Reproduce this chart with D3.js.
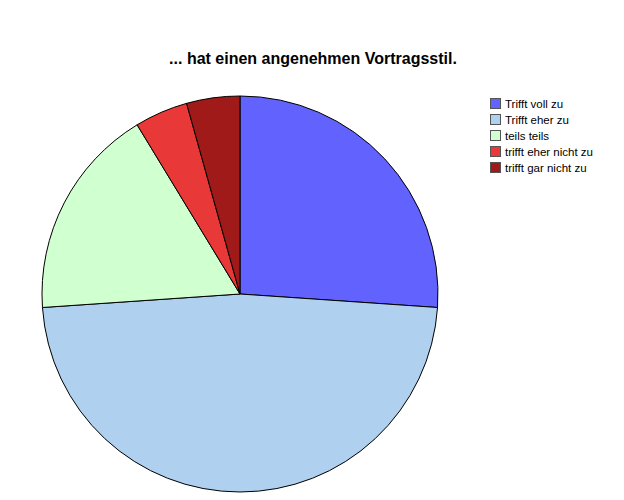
<!DOCTYPE html>
<html>
<head>
    <script type="text/javascript" src="https://d3js.org/d3.v7.min.js"></script>
    <style>
        body { margin: 0; background: #fff; font-family: "Liberation Sans", Arial, sans-serif; }
    </style>
</head>
<body>
    <div id="svgcontainer"></div>
    <script>
        var width = 624;
        var height = 500;

        var categories = ["Trifft voll zu", "Trifft eher zu", "teils teils", "trifft eher nicht zu", "trifft gar nicht zu"];
        var counts = [6, 11, 4, 1, 1];
        var colors = ["#6262ff", "#b0d0f0", "#d0ffd0", "#e83838", "#a01a1a"];

        var svg = d3.select("#svgcontainer")
            .append("svg")
            .attr("width", width)
            .attr("height", height);

        svg.append("text")
            .attr("x", 313).attr("y", 64)
            .attr("text-anchor", "middle")
            .style("font-size", "16px").style("font-weight", "bold")
            .text("... hat einen angenehmen Vortragsstil.");

        var pie = d3.pie().sort(null).value(d => d);
        var arc = d3.arc().innerRadius(0).outerRadius(198);

        var g = svg.append("g").attr("transform", "translate(240,294)");
        g.selectAll("path")
            .data(pie(counts))
            .enter().append("path")
            .attr("d", arc)
            .attr("fill", (d, i) => colors[i])
            .attr("stroke", "#000")
            .attr("stroke-width", 1);

        var legend = svg.append("g").attr("transform", "translate(490,98)");
        var item = legend.selectAll("g")
            .data(categories)
            .enter().append("g")
            .attr("transform", (d, i) => "translate(0," + (i * 16) + ")");
        item.append("rect")
            .attr("x", 0.5).attr("y", 0.5)
            .attr("width", 10).attr("height", 10)
            .attr("fill", (d, i) => colors[i])
            .attr("stroke", "#555");
        item.append("text")
            .attr("x", 15).attr("y", 9.5)
            .style("font-size", "11.5px")
            .text(d => d);
    </script>
</body>
</html>
